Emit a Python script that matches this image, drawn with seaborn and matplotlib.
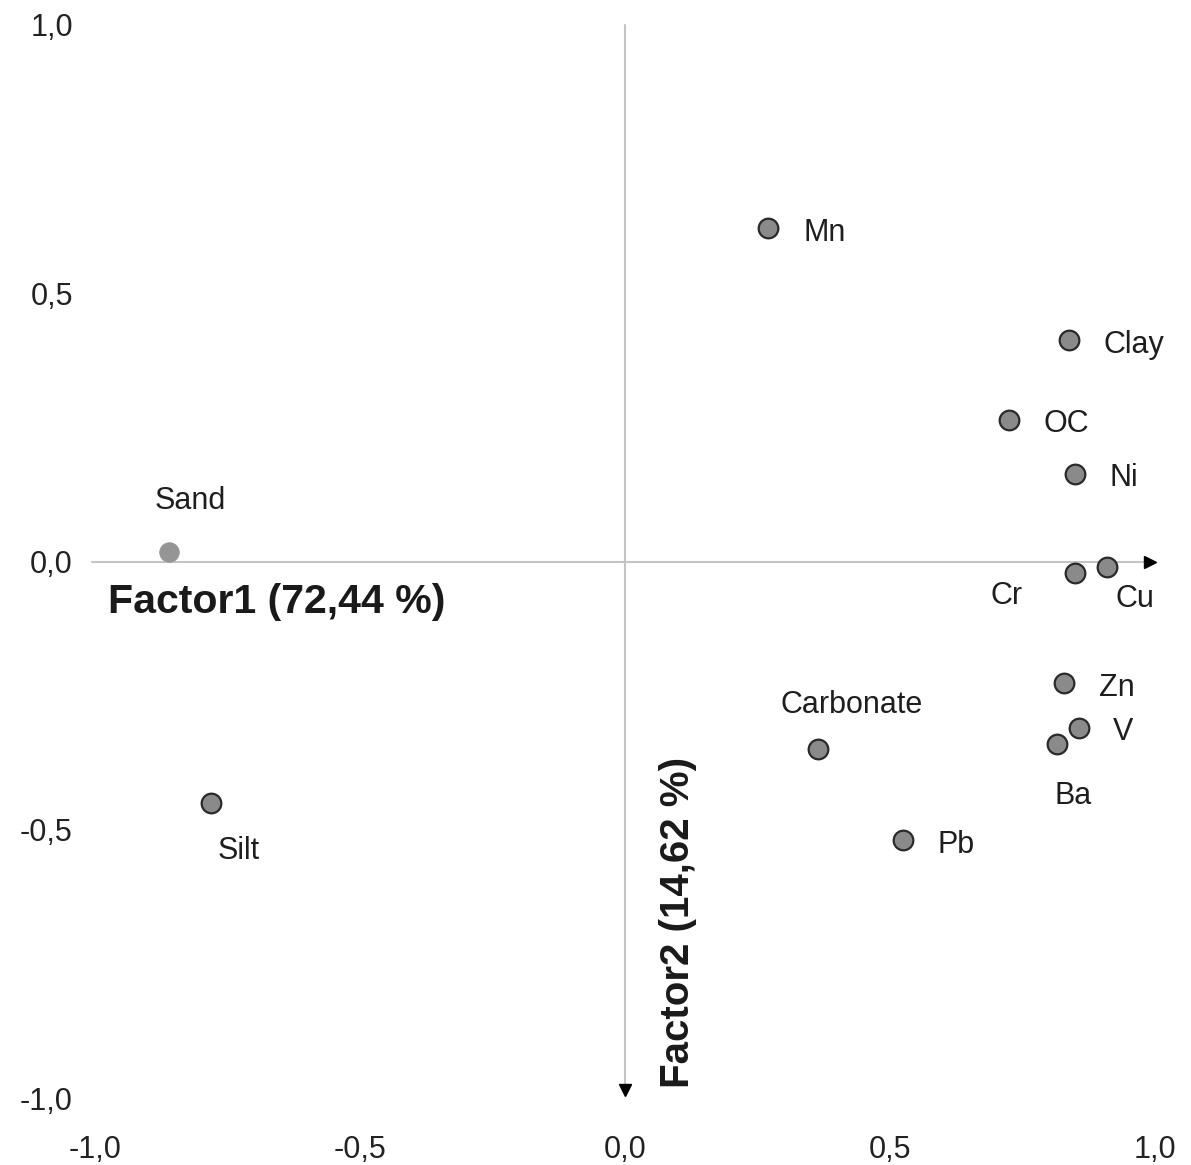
import matplotlib
matplotlib.use("Agg")
import matplotlib.pyplot as plt
import seaborn as sns
import pandas as pd

names = ["Mn", "Clay", "OC", "Ni", "Sand", "Cr", "Cu", "Zn", "V", "Ba", "Carbonate", "Pb", "Silt"]
factor1 = [0.270, 0.838, 0.725, 0.849, -0.860, 0.849, 0.909, 0.828, 0.857, 0.815, 0.364, 0.525, -0.781]
factor2 = [0.621, 0.412, 0.263, 0.164, 0.017, -0.022, -0.011, -0.226, -0.310, -0.341, -0.349, -0.519, -0.451]
tick_values = [-1.0, -0.5, 0.0, 0.5, 1.0]
tick_labels = ["-1,0", "-0,5", "0,0", "0,5", "1,0"]
x_title = "Factor1 (72,44 %)"
y_title = "Factor2 (14,62 %)"

# label offsets in pixels (dx, dy) and alignment
label_style = {
    "Mn": (35, -5, "left"), "Clay": (34, -5, "left"), "OC": (34, -4, "left"),
    "Ni": (35, -4, "left"), "Sand": (21, 51, "center"), "Cr": (-68, -23, "center"),
    "Cu": (28, -32, "center"), "Zn": (35, -5, "left"), "V": (34, -4, "left"),
    "Ba": (16, -52, "center"), "Carbonate": (34, 44, "center"), "Pb": (34, -5, "left"),
    "Silt": (28, -48, "center"),
}

df = pd.DataFrame({"name": names, "F1": factor1, "F2": factor2})
df["supp"] = df["name"] == "Sand"

sns.set_theme(style="white")
plt.rcParams["font.family"] = ["Liberation Sans", "DejaVu Sans"]

fig = plt.figure(figsize=(11.91, 11.65), dpi=100)
ax = fig.add_axes([95 / 1191, 1 - 1098 / 1165, 1060 / 1191, (1098 - 25) / 1165])
ax.set_xlim(-1, 1)
ax.set_ylim(-1, 1)

# axis lines through origin
ax.plot([-1.006, 0.985], [0, 0], color="#c4c4c4", lw=1.5, zorder=1, clip_on=False)
ax.plot([0, 0], [1.0, -0.98], color="#c4c4c4", lw=1.5, zorder=1, clip_on=False)
ax.plot([0.99], [0], marker=">", color="black", markersize=8, clip_on=False, zorder=2)
ax.plot([0], [-0.986], marker="v", color="black", markersize=8, clip_on=False, zorder=2)

main = df[~df["supp"]]
supp = df[df["supp"]]
sns.scatterplot(data=main, x="F1", y="F2", ax=ax, s=200, color="#8a8a8a",
                edgecolor="#2a2a2a", linewidth=1.6, zorder=3, legend=False)
sns.scatterplot(data=supp, x="F1", y="F2", ax=ax, s=200, color="#959595",
                edgecolor="#959595", linewidth=0.5, zorder=3, legend=False)

for _, r in df.iterrows():
    dx, dy, ha = label_style[r["name"]]
    ax.annotate(r["name"], (r["F1"], r["F2"]), xytext=(dx, dy), textcoords="offset pixels",
                ha=ha, va="center", fontsize=22, color="#1e1e1e")

ax.text(-0.975, -0.075, x_title, fontsize=29.5, fontweight="bold", ha="left", va="center", color="#1a1a1a")
ax.text(0.10, -0.673, y_title, fontsize=29, fontweight="bold", ha="center", va="center",
        rotation=90, color="#1a1a1a")

ax.set_xticks(tick_values)
ax.set_xticklabels(tick_labels)
ax.set_yticks(tick_values)
ax.set_yticklabels(tick_labels)
ax.tick_params(axis="x", length=0, pad=27, labelsize=22, labelcolor="#222222")
ax.tick_params(axis="y", length=0, pad=16, labelsize=22, labelcolor="#222222")
ax.set_xlabel("")
ax.set_ylabel("")
for sp in ax.spines.values():
    sp.set_visible(False)
ax.grid(False)

fig.savefig("out.png", dpi=100, facecolor="white")
